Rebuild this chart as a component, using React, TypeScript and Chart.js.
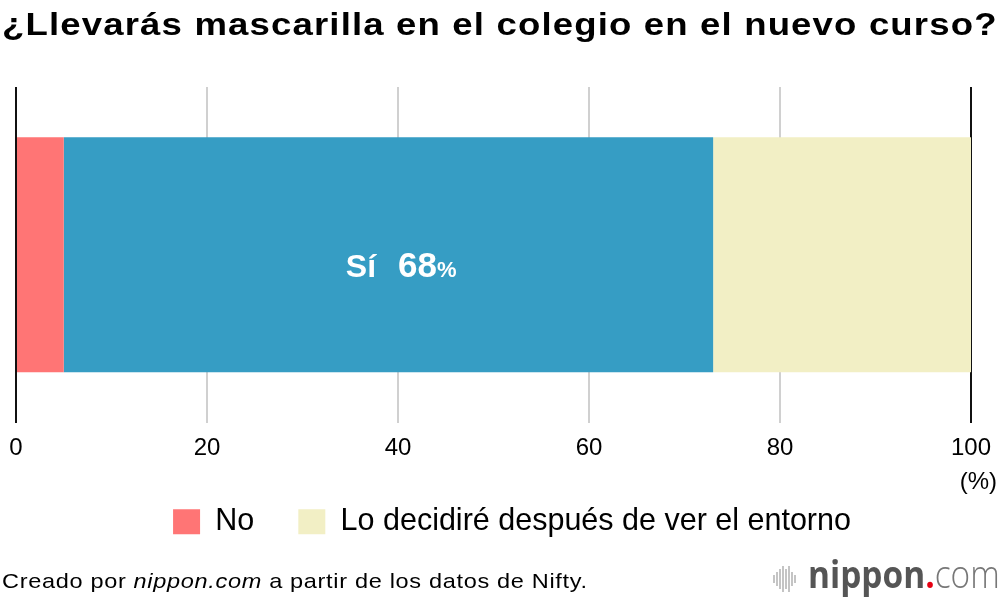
import React, { useEffect, useRef } from "react";
import { Chart, registerables } from "chart.js";

Chart.register(...registerables);

const categories = ["Mascarilla"];
const seriesLabels = ["No", "Sí", "Lo decidiré después de ver el entorno"];
const noValues = [5];
const siValues = [68];
const undecidedValues = [27];
const xTickStep = 20;
const xMin = 0;
const xMax = 100;
const seriesColors = ["#FF7575", "#369DC4", "#F2EFC5"];

const FONT = "'Liberation Sans', Arial, Helvetica, sans-serif";

const insideLabel = {
  id: "insideLabel",
  afterDatasetsDraw(chart: any) {
    const meta = chart.getDatasetMeta(1);
    const ctx = chart.ctx;
    meta.data.forEach((el: any, i: number) => {
      const { x, base, y } = el.getProps(["x", "base", "y"], true);
      const cx = (x + base) / 2;
      const name = seriesLabels[1];
      const val = String(siValues[i]);
      ctx.save();
      ctx.fillStyle = "#ffffff";
      ctx.textBaseline = "alphabetic";
      ctx.textAlign = "left";
      const f1 = `bold 32px ${FONT}`;
      const f2 = `bold 35px ${FONT}`;
      const f3 = `bold 22px ${FONT}`;
      ctx.font = f1;
      const w1 = ctx.measureText(name).width;
      ctx.font = f2;
      const w2 = ctx.measureText(val).width;
      const gap = 22;
      const start = cx + 3 - (w1 + gap + w2) / 2;
      const baseY = y + 22;
      ctx.font = f1;
      ctx.fillText(name, start, baseY);
      ctx.font = f2;
      ctx.fillText(val, start + w1 + gap, baseY);
      ctx.font = f3;
      ctx.fillText("%", start + w1 + gap + w2, baseY);
      ctx.restore();
    });
  },
};

function ChartCanvas() {
  const ref = useRef<HTMLCanvasElement | null>(null);
  useEffect(() => {
    if (!ref.current) return;
    Chart.defaults.font.family = FONT;
    const chart = new Chart(ref.current, {
      type: "bar",
      data: {
        labels: categories,
        datasets: [
          { label: seriesLabels[0], data: noValues, backgroundColor: seriesColors[0], borderWidth: 0 },
          { label: seriesLabels[1], data: siValues, backgroundColor: seriesColors[1], borderWidth: 0 },
          { label: seriesLabels[2], data: undecidedValues, backgroundColor: seriesColors[2], borderWidth: 0 },
        ],
      },
      options: {
        indexAxis: "y",
        responsive: false,
        animation: false,
        devicePixelRatio: 1,
        layout: { padding: { left: 16, right: 32, top: 87, bottom: 53 } },
        datasets: { bar: { categoryPercentage: 1, barPercentage: 0.7 } },
        scales: {
          x: {
            type: "linear",
            stacked: true,
            min: xMin,
            max: xMax,
            ticks: {
              stepSize: xTickStep,
              color: "#000",
              font: { size: 24, lineHeight: 1.4167 },
              padding: 9,
            },
            grid: {
              drawTicks: false,
              lineWidth: 2,
              color: (c: any) =>
                c.tick && (c.tick.value === xMin || c.tick.value === xMax) ? "#111111" : "#d0d0d0",
            },
            border: { display: false },
            afterFit: (s: any) => {
              s.height = 40;
            },
          },
          y: { type: "category", stacked: true, display: false },
          y2: {
            type: "category",
            position: "right",
            display: true,
            grid: { display: false },
            ticks: { display: false },
            border: { display: false },
            afterFit: (s: any) => {
              s.width = 37;
            },
          },
        },
        plugins: {
          title: { display: false },
          tooltip: { enabled: false },
          legend: {
            display: true,
            position: "bottom",
            labels: {
              filter: (item: any) => item.datasetIndex !== 1,
              boxWidth: 27,
              boxHeight: 25,
              padding: 44,
              color: "#000",
              font: { size: 30.5 },
            },
          },
        },
      },
      plugins: [insideLabel],
    } as any);
    return () => chart.destroy();
  }, []);
  return <canvas ref={ref} width={1040} height={600} style={{ position: "absolute", left: 0, top: 0 }} />;
}

const logoBars = [8, 14, 20, 26, 20, 26, 14, 8];

export default function App() {
  return (
    <div
      style={{
        position: "absolute",
        left: 0,
        top: 0,
        width: 1000,
        height: 600,
        overflow: "hidden",
        background: "#fff",
        fontFamily: FONT,
        color: "#000",
      }}
    >
      <ChartCanvas />
      <div
        style={{
          position: "absolute",
          left: 2,
          top: 8,
          fontSize: 32,
          lineHeight: "32px",
          letterSpacing: "1px",
          fontWeight: "bold",
          whiteSpace: "nowrap",
          transform: "scaleX(1.143)",
          transformOrigin: "left top",
        }}
      >
        ¿Llevarás mascarilla en el colegio en el nuevo curso?
      </div>
      <div
        style={{
          position: "absolute",
          right: 3,
          top: 469,
          fontSize: 24,
          lineHeight: "24px",
          whiteSpace: "nowrap",
        }}
      >
        (%)
      </div>
      <div
        style={{
          position: "absolute",
          left: 2,
          top: 570,
          fontSize: 21,
          lineHeight: "21px",
          letterSpacing: "0.6px",
          whiteSpace: "nowrap",
          transform: "scaleX(1.12)",
          transformOrigin: "left top",
        }}
      >
        Creado por <i>nippon.com</i> a partir de los datos de Nifty.
      </div>
      <div
        style={{
          position: "absolute",
          left: 773,
          top: 566,
          height: 26,
          display: "flex",
          alignItems: "center",
          gap: 1,
        }}
      >
        {logoBars.map((h, i) => (
          <div key={i} style={{ width: 2, height: h, background: "#c4c4c4" }} />
        ))}
      </div>
      <div
        style={{
          position: "absolute",
          left: 808,
          top: 553,
          fontFamily: "'Open Sans', sans-serif",
          fontSize: 38,
          lineHeight: "40px",
          color: "#555",
          whiteSpace: "nowrap",
          transform: "scaleX(0.88)",
          transformOrigin: "left top",
        }}
      >
        <span style={{ fontWeight: 700 }}>nippon</span>
        <span style={{ color: "#e60012", fontWeight: 700 }}>.</span>
        <span style={{ fontWeight: 300, color: "#777" }}>com</span>
      </div>
    </div>
  );
}
